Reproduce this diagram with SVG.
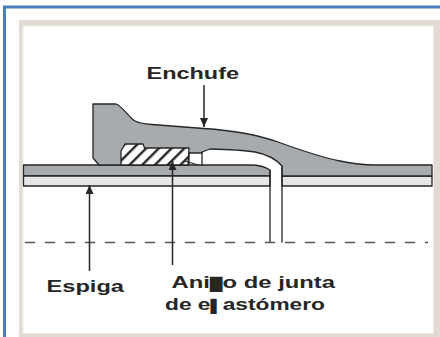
<svg xmlns="http://www.w3.org/2000/svg" width="440" height="337" viewBox="0 0 440 337">
  <style>
    .edge { stroke: #262626; stroke-width: 1.3; stroke-linejoin: round; }
    .iron { fill: #a8abae; }
    .lining { fill: #e5e6e7; }
    .lead { stroke: #262626; stroke-width: 1.5; fill: none; }
    .label { font-family: "Liberation Sans", "DejaVu Sans", Arial, sans-serif; font-weight: bold; font-size: 16.5px; fill: #262626; }
  </style>
  <defs>
    <pattern id="hatch" width="9" height="9" patternUnits="userSpaceOnUse" patternTransform="rotate(45)">
      <rect width="9" height="9" fill="#ffffff"/>
      <rect x="0" y="0" width="2.4" height="9" fill="#262626"/>
    </pattern>
    <marker id="tip" markerWidth="9" markerHeight="8" refX="9" refY="4" orient="auto" markerUnits="userSpaceOnUse">
      <path d="M0,0 L9,4 L0,8 Z" fill="#262626"/>
    </marker>
  </defs>

  <!-- outer frame -->
  <rect x="0" y="0" width="440" height="337" fill="#ffffff"/>
  <path d="M4.5,337 V7 H440" fill="none" stroke="#4a7ebc" stroke-width="3"/>
  <rect x="19" y="20" width="421" height="317" fill="#e1dbd3"/>
  <rect x="23" y="26" width="410.5" height="307.5" fill="#ffffff" stroke="#f0ede9" stroke-width="1"/>

  <!-- spigot pipe wall and lining -->
  <g id="espiga">
    <path class="iron edge" d="M23.5,165 L250,165 C258,165 265,166.5 270,170 L270,176 L23.5,176 Z"/>
    <rect class="lining edge" x="23.5" y="176" width="246.5" height="10"/>
  </g>

  <!-- bell (socket) with its lining -->
  <g id="enchufe">
    <rect class="lining edge" x="282" y="176" width="150" height="10"/>
    <path class="iron edge" d="M93,158 L93,104 L116,104 C122,106 128,116 134,120.5 C138,123 145,124 152,124.5 L204,128.5 C235,130.5 258,135 278,142 C300,150 320,157 340,161 C352,163.5 362,165 375,165 L432,165 L432,176 L282,176 L282,166 C275,158 265,154 255,152 C245,150.5 230,149.5 210,149 L202,152 L202,153 L189,153 L189,165 L99,165 Z"/>
    <path class="edge" d="M202,152 V166" fill="none"/>
  </g>

  <!-- elastomer gasket -->
  <g id="anillo">
    <path class="edge" fill="url(#hatch)" d="M121,165 L121,151 L125,144 L143,144 L144.5,148 L189,148 L188,165 Z"/>
    <path class="edge" d="M185,161 L198,165" fill="none"/>
  </g>

  <!-- pipe end faces and centre line -->
  <g id="ejes">
    <path class="edge" d="M270,170 V242.5 M282,166 V242.5" fill="none"/>
    <path d="M25,242.5 H428" stroke="#555555" stroke-width="1.5" stroke-dasharray="10 10" fill="none"/>
  </g>

  <!-- leader arrows -->
  <g id="connectors">
    <path class="lead" d="M204,85 V127" marker-end="url(#tip)"/>
    <path class="lead" d="M89.5,271 V185" marker-end="url(#tip)"/>
    <path class="lead" d="M172.5,265 V161" marker-end="url(#tip)"/>
  </g>

  <!-- labels -->
  <g id="labels">
    <text class="label" x="146.5" y="79" textLength="92.5" lengthAdjust="spacingAndGlyphs">Enchufe</text>
    <text class="label" x="46.5" y="291.5" textLength="77.5" lengthAdjust="spacingAndGlyphs">Espiga</text>
    <text class="label" x="171.5" y="287.5" textLength="163.5" lengthAdjust="spacingAndGlyphs">Ani<tspan font-size="12.5">█</tspan>o de junta</text>
    <text class="label" x="165" y="309.5" textLength="160" lengthAdjust="spacingAndGlyphs">de e<tspan font-size="12.5">▌</tspan>astómero</text>
  </g>
</svg>
